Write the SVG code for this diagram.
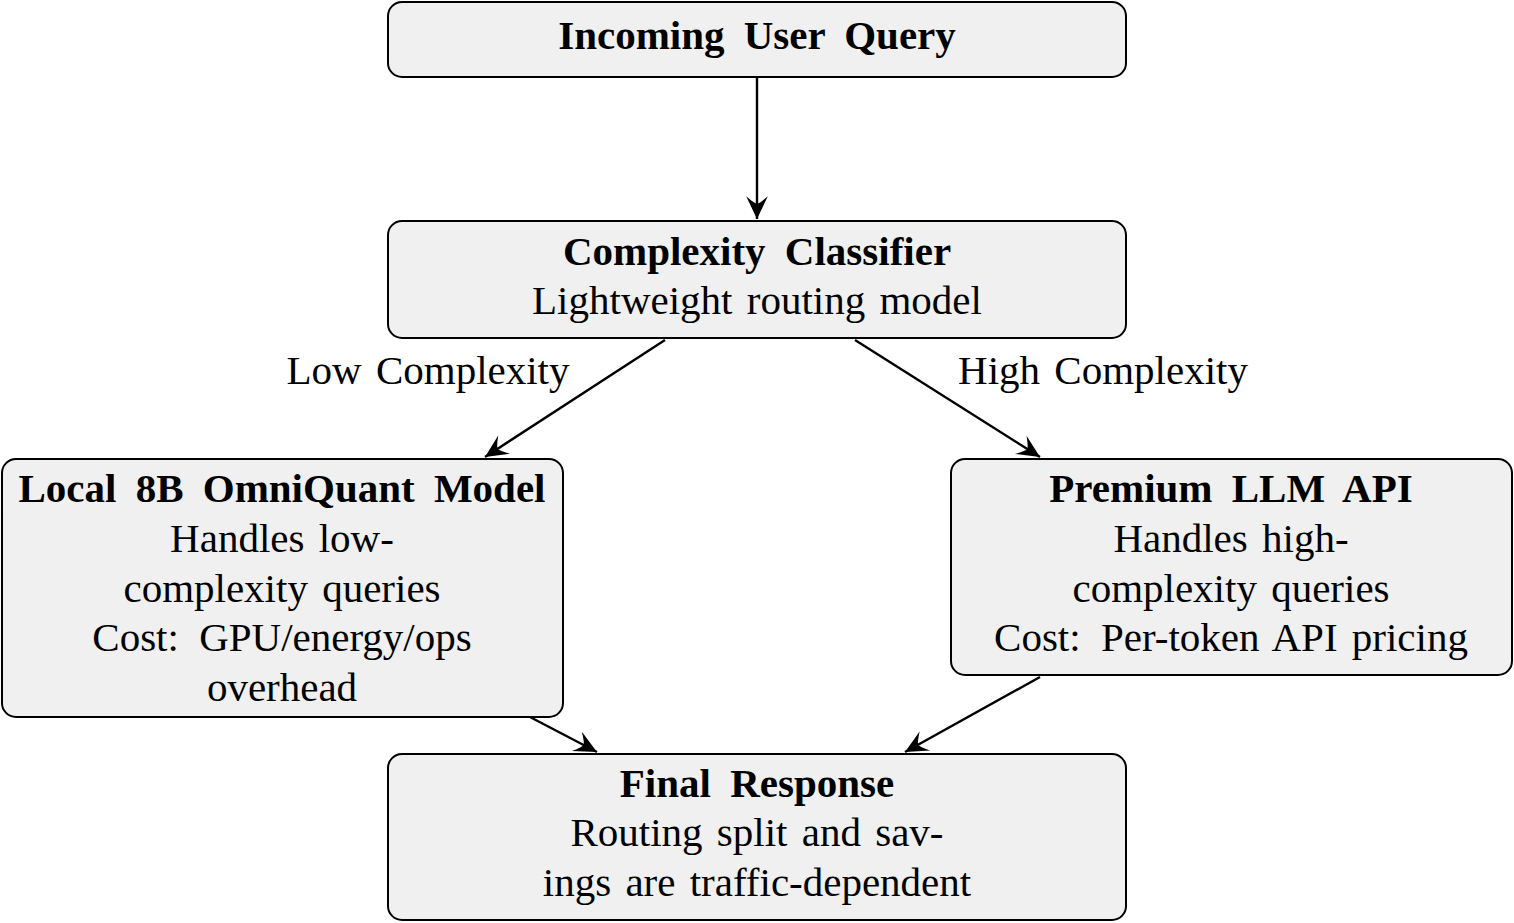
<svg xmlns="http://www.w3.org/2000/svg" width="1514" height="923" viewBox="0 0 1514 923">
<style>
.box{fill:#f0f0f0;stroke:#000;stroke-width:2}
.t{font-family:"Liberation Serif","Times New Roman",serif;font-size:41px;fill:#000;text-anchor:middle;word-spacing:4px;white-space:pre}
.b{font-weight:bold;word-spacing:9px}
.c{stroke:#000;stroke-width:2.4;fill:none}
</style>
<defs>
<marker id="ah" markerUnits="userSpaceOnUse" markerWidth="26" markerHeight="26" viewBox="-22 -11 24 22" refX="0" refY="0" orient="auto">
<path d="M0,0 L-21,-10 Q-14,-2 -14,0 Q-14,2 -21,10 Z" fill="#000"/>
</marker>
</defs>
<rect width="1514" height="923" fill="#fff"/>
<g id="connectors">
<line class="c" x1="757" y1="78" x2="757" y2="219" marker-end="url(#ah)"/>
<line class="c" x1="665" y1="340" x2="485" y2="457" marker-end="url(#ah)"/>
<line class="c" x1="855" y1="340" x2="1040" y2="457" marker-end="url(#ah)"/>
<line class="c" x1="530" y1="717" x2="597" y2="752" marker-end="url(#ah)"/>
<line class="c" x1="1040" y1="677" x2="905" y2="752" marker-end="url(#ah)"/>
<text class="t" x="428" y="384">Low Complexity</text>
<text class="t" x="1103" y="384">High Complexity</text>
</g>
<g id="query">
<rect class="box" x="388" y="2" width="738" height="75" rx="14"/>
<text class="t b" x="757" y="49">Incoming User Query</text>
</g>
<g id="classifier">
<rect class="box" x="388" y="221" width="738" height="117" rx="14"/>
<text class="t b" x="757" y="265">Complexity Classifier</text>
<text class="t" x="757" y="314">Lightweight routing model</text>
</g>
<g id="local">
<rect class="box" x="2" y="459" width="561" height="258" rx="14"/>
<text class="t b" x="282" y="502">Local 8B OmniQuant Model</text>
<text class="t" x="282" y="552">Handles low-</text>
<text class="t" x="282" y="602">complexity queries</text>
<text class="t" x="282" y="651">Cost: <tspan dx="6">GPU/energy/ops</tspan></text>
<text class="t" x="282" y="701">overhead</text>
</g>
<g id="premium">
<rect class="box" x="951" y="459" width="561" height="216" rx="14"/>
<text class="t b" x="1231" y="502">Premium LLM API</text>
<text class="t" x="1231" y="552">Handles high-</text>
<text class="t" x="1231" y="602">complexity queries</text>
<text class="t" x="1231" y="651">Cost: <tspan dx="6">Per-token API pricing</tspan></text>
</g>
<g id="final">
<rect class="box" x="388" y="754" width="738" height="166" rx="14"/>
<text class="t b" x="757" y="797">Final Response</text>
<text class="t" x="757" y="846">Routing split and sav-</text>
<text class="t" x="757" y="896">ings are traffic-dependent</text>
</g>
</svg>
